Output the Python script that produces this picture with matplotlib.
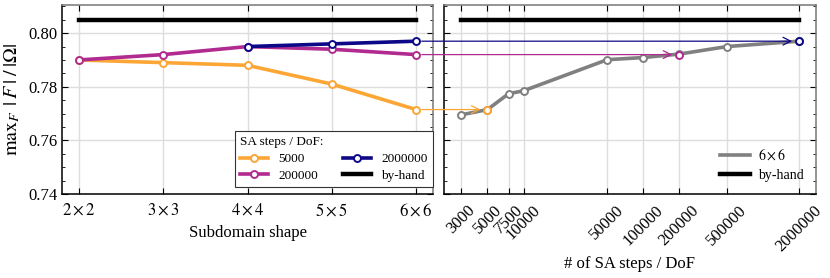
import matplotlib
matplotlib.use("Agg")
import matplotlib.pyplot as plt
from matplotlib.patches import ConnectionPatch
from matplotlib.lines import Line2D
import numpy as np

plt.rcParams['font.family'] = ['Liberation Serif', 'DejaVu Serif']
plt.rcParams['mathtext.fontset'] = 'stix'
plt.rcParams['font.size'] = 12

# ---- data ----
shapes = ["$2\\times2$", "$3\\times3$", "$4\\times4$", "$5\\times5$", "$6\\times6$"]
vals_5000 = [0.790, 0.789, 0.788, 0.781, 0.7715]
vals_200000 = [0.790, 0.792, 0.795, 0.794, 0.792]
shapes_2000000 = ["$4\\times4$", "$5\\times5$", "$6\\times6$"]
vals_2000000 = [0.795, 0.796, 0.797]
by_hand = 0.805

steps = [3000, 5000, 7500, 10000, 50000, 100000, 200000, 500000, 2000000]
vals_6x6 = [0.7695, 0.7715, 0.7774, 0.7785, 0.7901, 0.7909, 0.7922, 0.795, 0.797]
step_labels = ["3000", "5000", "7500", "10000", "50000", "100000", "200000", "500000", "2000000"]

c_5000 = "#FCA636"
c_200000 = "#B12A90"
c_2000000 = "#0D0887"
c_gray = "#808080"

fig = plt.figure(figsize=(8.3, 2.78), dpi=100)
ax1 = fig.add_axes([62/830, 1-194/278, (433-62)/830, (194-5)/278])
ax2 = fig.add_axes([444/830, 1-194/278, (816-444)/830, (194-5)/278], sharey=ax1)

lw = 2.6
mk = dict(marker='o', markerfacecolor='white', markersize=5, markeredgewidth=1.4)

xi = np.arange(len(shapes))
ax1.plot(xi, vals_5000, color=c_5000, lw=lw, label="5000", **mk)
ax1.plot(xi, vals_200000, color=c_200000, lw=lw, label="200000", **mk)
xi2 = [shapes.index(s) for s in shapes_2000000]
ax1.plot(xi2, vals_2000000, color=c_2000000, lw=lw, label="2000000", **mk)
ax1.plot([xi[0], xi[-1]], [by_hand, by_hand], color='black', lw=3.2, label="by-hand")
ax1.set_xticks(xi)
ax1.set_xticklabels(shapes)
ax1.set_xlabel("Subdomain shape")
ax1.set_ylabel("$\\mathrm{max}_F\\;\\,|\\,F\\,|\\;/\\;|\\Omega|$", fontsize=14.5)
ax1.set_ylim(0.74, 0.8105)
ax1.set_yticks([0.74, 0.76, 0.78, 0.80])
ax1.set_yticks(np.arange(0.74, 0.811, 0.005), minor=True)
ax1.set_yticklabels(["0.74", "0.76", "0.78", "0.80"])
leg1 = ax1.legend(title="SA steps / DoF:", ncol=2, loc='lower right',
                  bbox_to_anchor=(1.0, 0.035), borderaxespad=0, fontsize=9.5,
                  title_fontsize=9.5, fancybox=False, framealpha=1,
                  edgecolor='#333333', handlelength=2.1, columnspacing=1.9,
                  handletextpad=0.8, labelspacing=0.35)
leg1._legend_box.align = "left"
leg1.get_frame().set_linewidth(0.8)

ax2.plot(steps, vals_6x6, color=c_gray, lw=lw, **mk)
ax2.plot([steps[0], steps[-1]], [by_hand, by_hand], color='black', lw=3.2)
# highlighted points
for s, v, c in [(5000, vals_5000[-1], c_5000), (200000, vals_200000[-1], c_200000),
                (2000000, vals_2000000[-1], c_2000000)]:
    ax2.plot([s], [v], color=c, linestyle='none', zorder=5, **mk)
ax2.set_xscale('log')
ax2.set_xticks(steps)
ax2.set_xticklabels(step_labels, rotation=45, fontsize=12)
ax2.xaxis.set_minor_locator(matplotlib.ticker.NullLocator())
ax2.set_xlabel("# of SA steps / DoF", labelpad=1)
plt.setp(ax2.get_yticklabels(), visible=False)
handles2 = [Line2D([], [], color=c_gray, lw=lw), Line2D([], [], color='black', lw=3.2)]
ax2.legend(handles2, ["$6\\times6$", "by-hand"], loc='lower right', frameon=False,
           fontsize=10, handlelength=2.2, handletextpad=0.6, borderaxespad=0.45,
           labelspacing=0.45)

for ax in (ax1, ax2):
    ax.grid(True, which='major', color='#dddddd', lw=1.0)
    ax.set_axisbelow(True)
    ax.tick_params(which='both', direction='in', top=True, right=True)
    ax.tick_params(which='major', length=4)
    ax.tick_params(which='minor', length=2.5)
    ax.tick_params(axis='x', which='major', pad=6)
    ax.spines['left'].set_color('black')
    ax.spines['bottom'].set_color('black')
    ax.spines['top'].set_color('#777777')
    ax.spines['right'].set_color('#777777')
    for sp in ax.spines.values():
        sp.set_linewidth(1.1)

# arrows from left 6x6 points to right points
for v, s, c in [(vals_5000[-1], 5000, c_5000), (vals_200000[-1], 200000, c_200000),
                (vals_2000000[-1], 2000000, c_2000000)]:
    con = ConnectionPatch(xyA=(xi[-1], v), coordsA=ax1.transData,
                          xyB=(s, v), coordsB=ax2.transData,
                          arrowstyle='->', color=c, lw=0.9, mutation_scale=14,
                          shrinkA=4, shrinkB=5, zorder=4)
    fig.add_artist(con)

fig.savefig("out.png", dpi=100)
